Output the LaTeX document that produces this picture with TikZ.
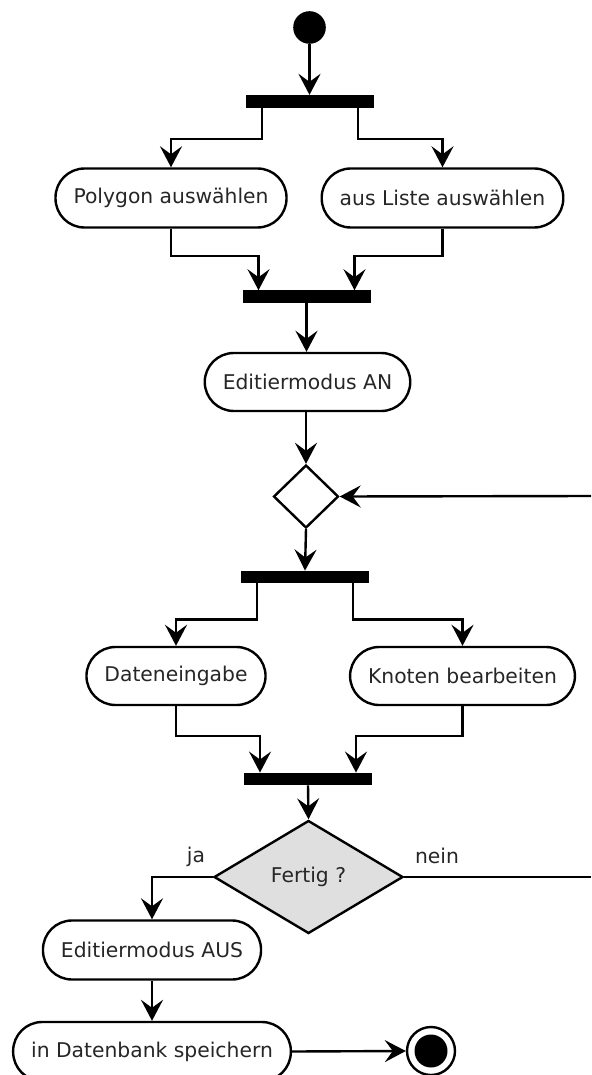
\documentclass[tikz,border=0pt]{standalone}
\usepackage{fontspec}
\setmainfont{DejaVu Sans}
\usetikzlibrary{arrows.meta,shapes.geometric,calc}

\tikzset{
  flow/.style={line width=2.4pt, -{Stealth[length=21pt,width=22pt,inset=8pt]}},
  plain/.style={line width=2.4pt},
  action/.style={draw, line width=2.4pt, rectangle, rounded corners=29pt,
    minimum height=59pt, inner xsep=18pt, inner ysep=0pt,
    font=\fontsize{20.3}{24}\selectfont, text=black!85},
  bar/.style={fill=black, rectangle, inner sep=0pt, minimum width=128pt, minimum height=12.5pt},
  decision/.style={draw, line width=2.4pt, diamond, inner sep=0pt},
  guard/.style={font=\fontsize{20.3}{24}\selectfont, text=black!85, inner sep=0pt},
}

\begin{document}
\begin{tikzpicture}[x=1pt, y=-1pt]
  \useasboundingbox (0,0) rectangle (591,1075);
  \clip (0,0) rectangle (591,1075);

  % initial node
  \node[circle, fill=black, minimum size=32.6pt, inner sep=0pt] (start) at (309.5,27.5) {};

  % first fork
  \node[bar] (b1) at (310,101.3) {};
  \node[action] (poly) at (171,198) {Polygon auswählen};
  \node[action] (liste) at (442.5,198) {aus Liste auswählen};
  \node[bar] (b2) at (306.5,296.7) {};

  \node[action, minimum height=58pt] (edan) at (307.5,382) {Editiermodus AN};
  \node[decision, minimum width=65pt, minimum height=63pt] (d1) at (306,496.5) {};
  \coordinate (loopin) at (591,496);

  % second fork
  \node[bar] (b3) at (305,577) {};
  \node[action, minimum height=58pt] (daten) at (176,676) {Dateneingabe};
  \node[action, minimum height=58pt] (knoten) at (462.5,676) {Knoten bearbeiten};
  \node[bar] (b4) at (308,779) {};

  % final decision
  \node[decision, fill=gray!25, minimum width=189pt, minimum height=113pt,
        font=\fontsize{20.3}{24}\selectfont, text=black!85] (d2) at (308.5,877) {Fertig ?};
  \coordinate (loopout) at (591,877);
  \node[guard] (ja) at (196,857) {ja};
  \node[guard] (nein) at (437,856) {nein};

  \node[action] (edaus) at (152,950) {Editiermodus AUS};
  \node[action] (db) at (152,1051.5) {in Datenbank speichern};

  % final node
  \node[circle, draw, line width=2.4pt, minimum size=48pt, inner sep=0pt] (end) at (431,1051) {};
  \node[circle, fill=black, minimum size=33pt, inner sep=0pt] (endcore) at (end.center) {};

  % connectors
  \draw[flow] (start) -- (b1.north -| start);
  \draw[flow] ([xshift=-48pt]b1.south) -- ++(0,31) -| (poly.north);
  \draw[flow] ([xshift=48pt]b1.south) -- ++(0,31) -| (liste.north);
  \draw[flow] (poly.south) -- ++(0,27) -| ([xshift=-48pt]b2.north);
  \draw[flow] (liste.south) -- ++(0,27) -| ([xshift=48pt]b2.north);
  \draw[flow] (b2.south) -- (edan.north -| b2.south);
  \draw[flow] (edan.south -| d1.north) -- (d1.north);
  \draw[flow] (loopin) -- (d1.east);
  \draw[flow] (d1.south) -- (b3.north);
  \draw[flow] ([xshift=-48pt]b3.south) -- ++(0,36) -| (daten.north);
  \draw[flow] ([xshift=48pt]b3.south) -- ++(0,36) -| (knoten.north);
  \draw[flow] (daten.south) -- ++(0,30) -| ([xshift=-48pt]b4.north);
  \draw[flow] (knoten.south) -- ++(0,30) -| ([xshift=48pt]b4.north);
  \draw[flow] (b4.south) -- (d2.north);
  \draw[flow] (d2.west) -| (edaus.north);
  \draw[plain] (d2.east) -- (loopout);
  \draw[flow] (edaus.south) -- (db.north);
  \draw[flow] (db.east) -- (end.west);
\end{tikzpicture}
\end{document}
